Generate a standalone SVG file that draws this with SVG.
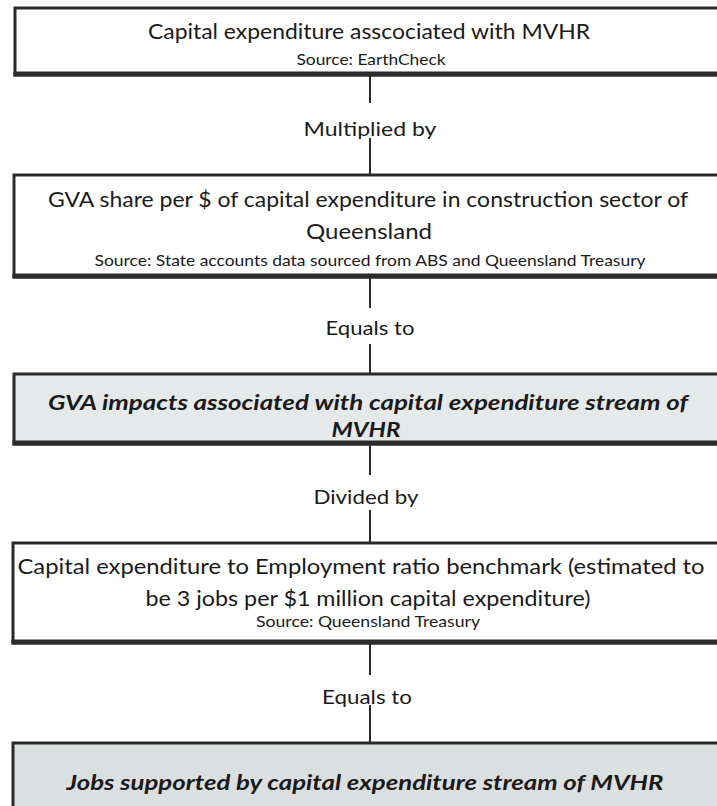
<svg xmlns="http://www.w3.org/2000/svg" width="717" height="806" viewBox="0 0 717 806">
<style>
.box{stroke:#2b2b2b;stroke-width:3;fill:#ffffff}
.shade{fill:#e6e9e9}
.shade2{fill:#dcdfdf}
.base{stroke:#2b2b2b;stroke-width:5}
.t{font-family:"Lato","Liberation Sans",sans-serif;font-size:21px;fill:#1a1a1a;text-anchor:middle}
.s{font-family:"Lato","Liberation Sans",sans-serif;font-size:15px;fill:#1a1a1a;text-anchor:middle}
.bi{font-family:"Lato","Liberation Sans",sans-serif;font-size:20px;font-weight:bold;font-style:italic;fill:#1a1a1a;text-anchor:middle}
.lbl{font-family:"Lato","Liberation Sans",sans-serif;font-size:20px;fill:#1a1a1a;text-anchor:middle}
.c{stroke:#2b2b2b;stroke-width:2;fill:none}
</style>
<rect width="717" height="806" fill="#ffffff"/>
<g id="connectors">
<line class="c" x1="370" y1="75" x2="370" y2="103"/>
<line class="c" x1="370" y1="138" x2="370" y2="175"/>
<line class="c" x1="370" y1="277" x2="370" y2="308"/>
<line class="c" x1="370" y1="344" x2="370" y2="374"/>
<line class="c" x1="370" y1="444" x2="370" y2="475"/>
<line class="c" x1="370" y1="510" x2="370" y2="543"/>
<line class="c" x1="370" y1="643" x2="370" y2="675"/>
<line class="c" x1="370" y1="705" x2="370" y2="743"/>
<text class="lbl" x="370" y="136" textLength="133" lengthAdjust="spacingAndGlyphs">Multiplied by</text>
<text class="lbl" x="370" y="335" textLength="89" lengthAdjust="spacingAndGlyphs">Equals to</text>
<text class="lbl" x="366" y="504" textLength="105" lengthAdjust="spacingAndGlyphs">Divided by</text>
<text class="lbl" x="367" y="704" textLength="90" lengthAdjust="spacingAndGlyphs">Equals to</text>
</g>
<g id="node1">
<rect class="box" x="15" y="8" width="720" height="67"/>
<line class="base" x1="13.5" y1="74" x2="717" y2="74"/>
<text class="t" x="369" y="39" textLength="442" lengthAdjust="spacingAndGlyphs">Capital expenditure asscociated with MVHR</text>
<text class="s" x="371" y="65" textLength="149" lengthAdjust="spacingAndGlyphs">Source: EarthCheck</text>
</g>
<g id="node2">
<rect class="box" x="14" y="175" width="720" height="102"/>
<line class="base" x1="12.5" y1="276" x2="717" y2="276"/>
<text class="t" x="368" y="207" textLength="640" lengthAdjust="spacingAndGlyphs">GVA share per $ of capital expenditure in construction sector of</text>
<text class="t" x="369" y="239" textLength="126" lengthAdjust="spacingAndGlyphs">Queensland</text>
<text class="s" x="370" y="266" textLength="551" lengthAdjust="spacingAndGlyphs">Source: State accounts data sourced from ABS and Queensland Treasury</text>
</g>
<g id="node3">
<rect class="box shade" x="14" y="374" width="720" height="70"/>
<line class="base" x1="12.5" y1="443" x2="717" y2="443"/>
<text class="bi" x="368" y="410" textLength="640" lengthAdjust="spacingAndGlyphs">GVA impacts associated with capital expenditure stream of</text>
<text class="bi" x="366" y="437" textLength="69" lengthAdjust="spacingAndGlyphs">MVHR</text>
</g>
<g id="node4">
<rect class="box" x="13" y="543" width="720" height="100"/>
<line class="base" x1="11.5" y1="642" x2="717" y2="642"/>
<text class="t" x="361" y="574" textLength="687" lengthAdjust="spacingAndGlyphs">Capital expenditure to Employment ratio benchmark (estimated to</text>
<text class="t" x="368" y="606" textLength="445" lengthAdjust="spacingAndGlyphs">be 3 jobs per $1 million capital expenditure)</text>
<text class="s" x="368" y="627" textLength="224" lengthAdjust="spacingAndGlyphs">Source: Queensland Treasury</text>
</g>
<g id="node5">
<rect class="box shade2" x="13" y="743" width="720" height="80"/>
<text class="bi" x="365" y="790" textLength="597" lengthAdjust="spacingAndGlyphs">Jobs supported by capital expenditure stream of MVHR</text>
</g>
</svg>
